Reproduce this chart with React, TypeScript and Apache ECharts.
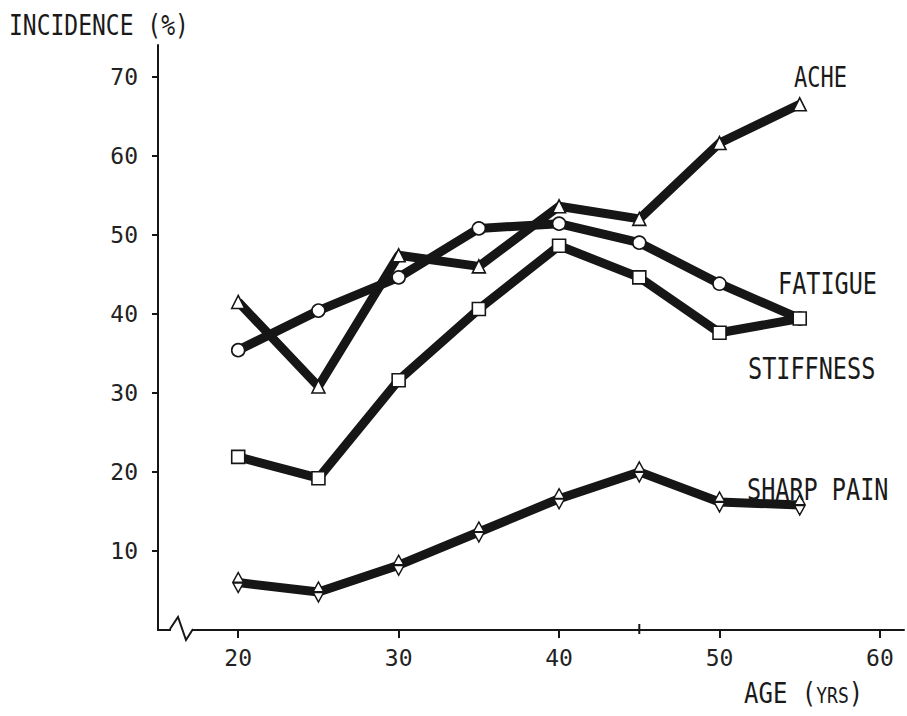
import React, { useEffect, useRef } from "react";
import * as echarts from "echarts";

const ages = [20, 25, 30, 35, 40, 45, 50, 55];
const ache = [41.5, 30.8, 47.4, 46.0, 53.6, 52.0, 61.6, 66.5];
const fatigue = [35.4, 40.4, 44.6, 50.8, 51.4, 49.0, 43.8, 39.4];
const stiffness = [21.9, 19.2, 31.6, 40.6, 48.6, 44.6, 37.6, 39.4];
const sharpPain = [6.0, 4.8, 8.2, 12.4, 16.6, 20.0, 16.2, 15.8];

const xTickValues = [20, 30, 40, 50, 60];
const xExtraTick = [45];
const xLabelValues = [20, 30, 40, 50, 60];
const yTickValues = [10, 20, 30, 40, 50, 60, 70];

const seriesNames = ["ACHE", "FATIGUE", "STIFFNESS", "SHARP PAIN"];

const FONT = "'DejaVu Sans Mono', 'Liberation Mono', monospace";
const INK = "#161616";
const DIAMOND = "path://M5,0 L10,9 L5,18 L0,9 Z M0,9 L10,9";

export default function App() {
  const ref = useRef<HTMLDivElement>(null);
  useEffect(() => {
    if (!ref.current) return;
    const chart = echarts.init(ref.current, null, { renderer: "svg" });
    const sets = [ache, fatigue, stiffness, sharpPain];
    const symbols: any[] = ["triangle", "circle", "rect", DIAMOND];
    const sizes: any[] = [13, 13, 13, [11, 20]];
    const toPairs = (vals: number[]) => ages.map((a, i) => [a, vals[i]]);
    const lineSeries = sets.map((vals, i) => ({
      type: "line",
      name: seriesNames[i],
      data: toPairs(vals),
      showSymbol: false,
      symbol: "none",
      lineStyle: { color: INK, width: 9, join: "round" },
      z: 2,
    }));
    const markerSeries = sets.map((vals, i) => ({
      type: "scatter",
      name: seriesNames[i] + " markers",
      data: toPairs(vals),
      symbol: symbols[i],
      symbolSize: sizes[i],
      itemStyle: { color: "#ffffff", borderColor: INK, borderWidth: 1.6, opacity: 1 },
      z: 5,
    }));
    chart.setOption({
      animation: false,
      backgroundColor: "#ffffff",
      grid: { left: 158, right: 3, top: 45, bottom: 86, containLabel: false },
      xAxis: {
        type: "value",
        min: 15,
        max: 61.5,
        splitLine: { show: false },
        axisLine: { show: true, lineStyle: { color: INK, width: 2 } },
        axisTick: {
          show: true,
          customValues: xTickValues,
          length: 8,
          lineStyle: { color: INK, width: 2 },
        },
        axisLabel: {
          customValues: xLabelValues,
          margin: 16,
          color: "#222",
          fontFamily: FONT,
          fontSize: 23,
        },
      },
      yAxis: {
        type: "value",
        min: 0,
        max: 74,
        splitLine: { show: false },
        axisLine: { show: true, lineStyle: { color: INK, width: 2 } },
        axisTick: {
          show: true,
          customValues: yTickValues,
          length: 6,
          lineStyle: { color: INK, width: 2 },
        },
        axisLabel: {
          customValues: yTickValues,
          margin: 20,
          color: "#222",
          fontFamily: FONT,
          fontSize: 23,
        },
      },
      series: [
        ...lineSeries,
        ...markerSeries,
        {
          type: "scatter",
          name: "minor tick",
          data: xExtraTick.map((v) => [v, 0]),
          symbol: "rect",
          symbolSize: [2, 10],
          symbolOffset: [0, -1],
          itemStyle: { color: INK, opacity: 1 },
          z: 6,
        },
      ],
      graphic: [
        {
          type: "rect",
          z: 100,
          shape: { x: 171, y: 624, width: 22, height: 9 },
          style: { fill: "#ffffff" },
        },
        {
          type: "polyline",
          z: 101,
          shape: { points: [[170, 629], [178, 617], [186, 640], [193, 629]] },
          style: { stroke: INK, lineWidth: 2, fill: "none" },
        },
        {
          type: "text",
          z: 100,
          left: 9,
          top: 11,
          scaleY: 1.25,
          style: { text: "INCIDENCE (%)", font: `23px ${FONT}`, fill: "#1a1a1a" },
        },
        {
          type: "text",
          z: 100,
          x: 744,
          y: 678,
          scaleY: 1.2,
          style: {
            text: "{a|AGE (}{b|YRS}{a|)}",
            rich: {
              a: { font: `24px ${FONT}`, fill: "#1a1a1a" },
              b: { font: `18px ${FONT}`, fill: "#1a1a1a", verticalAlign: "bottom" },
            },
          },
        },
        {
          type: "text",
          z: 100,
          x: 794,
          y: 64,
          scaleY: 1.25,
          style: { text: "ACHE", font: `22px ${FONT}`, fill: "#1a1a1a" },
        },
        {
          type: "text",
          z: 100,
          x: 778,
          y: 268,
          scaleY: 1.25,
          style: { text: "FATIGUE", font: `23.5px ${FONT}`, fill: "#1a1a1a" },
        },
        {
          type: "text",
          z: 100,
          x: 748,
          y: 353,
          scaleY: 1.25,
          style: { text: "STIFFNESS", font: `23.5px ${FONT}`, fill: "#1a1a1a" },
        },
        {
          type: "text",
          z: 100,
          x: 747,
          y: 474,
          scaleY: 1.25,
          style: { text: "SHARP PAIN", font: `23.5px ${FONT}`, fill: "#1a1a1a" },
        },
      ],
    });
    return () => chart.dispose();
  }, []);
  return (
    <div
      ref={ref}
      style={{ position: "absolute", left: 0, top: 0, width: 907, height: 716 }}
    />
  );
}
